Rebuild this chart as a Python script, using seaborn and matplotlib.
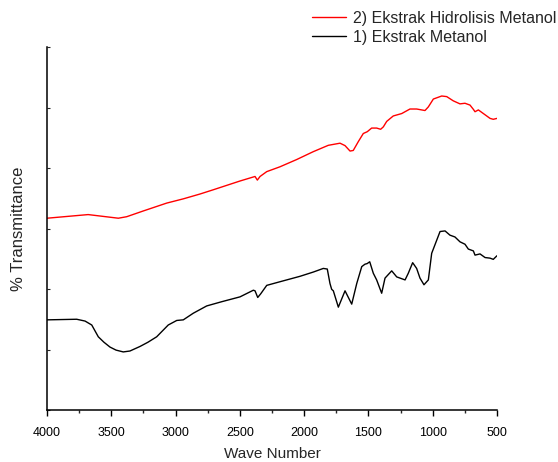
import matplotlib
matplotlib.use("Agg")
import matplotlib.pyplot as plt
import seaborn as sns
import pandas as pd
from matplotlib.ticker import MultipleLocator

sns.set_style("ticks")
plt.rcParams['font.family'] = ['Liberation Sans', 'DejaVu Sans']

# 2) Ekstrak Hidrolisis Metanol (red)
red_wn = [4000, 3680, 3445, 3380, 3251, 3069, 2940, 2810, 2707, 2499, 2382, 2364,
          2343, 2291, 2188, 2058, 1929, 1812, 1721, 1682, 1643, 1618, 1579, 1540,
          1509, 1475, 1436, 1405, 1384, 1358, 1307, 1241, 1177, 1125, 1060, 1034,
          995, 930, 891, 840, 788, 749, 710, 684, 671, 645, 606, 554, 529, 500]
red_t = [31.7, 32.3, 31.7, 31.95, 32.9, 34.2, 34.9, 35.7, 36.4, 37.85, 38.6, 38.0,
         38.6, 39.4, 40.2, 41.4, 42.7, 43.75, 44.1, 43.7, 42.8, 42.9, 44.35, 45.7,
         46.0, 46.6, 46.6, 46.4, 46.8, 47.7, 48.6, 49.0, 49.75, 49.75, 49.5, 50.1,
         51.4, 51.9, 51.8, 51.1, 50.6, 50.7, 50.4, 49.7, 49.3, 49.6, 49.0, 48.2, 48.05, 48.2]

# 1) Ekstrak Metanol (black)
blk_wn = [4000, 3769, 3704, 3652, 3601, 3557, 3510, 3463, 3407, 3355, 3277, 3215,
          3147, 3057, 2991, 2940, 2862, 2758, 2641, 2499, 2395, 2382, 2361, 2338,
          2291, 2188, 2032, 1929, 1851, 1820, 1799, 1786, 1773, 1734, 1682, 1630,
          1591, 1552, 1527, 1510, 1490, 1462, 1436, 1397, 1371, 1319, 1280, 1254,
          1215, 1190, 1156, 1125, 1099, 1068, 1034, 1008, 943, 904, 866, 827, 788,
          749, 723, 684, 671, 632, 593, 554, 529, 500]
blk_t = [14.9, 15.0, 14.7, 14.05, 12.1, 11.2, 10.4, 9.9, 9.6, 9.75, 10.5, 11.2,
         12.1, 14.05, 14.8, 14.9, 16.0, 17.2, 17.9, 18.7, 19.8, 19.7, 18.6, 19.2,
         20.6, 21.2, 22.1, 22.8, 23.4, 23.3, 20.9, 19.95, 19.7, 17.0, 19.7, 17.5,
         20.9, 23.7, 24.1, 24.2, 24.5, 22.6, 21.5, 19.3, 21.8, 23.0, 22.0, 21.8,
         21.5, 22.6, 24.35, 23.4, 21.8, 20.7, 21.5, 25.9, 29.5, 29.6, 28.9, 28.6, 27.8,
         27.4, 26.6, 26.3, 25.6, 25.8, 25.2, 25.1, 24.9, 25.5]

x_ticks = [4000, 3500, 3000, 2500, 2000, 1500, 1000, 500]

red_df = pd.DataFrame({"wn": red_wn, "t": red_t})
blk_df = pd.DataFrame({"wn": blk_wn, "t": blk_t})

fig = plt.figure(figsize=(5.58, 4.62), dpi=100)
ax = fig.add_axes([47/558, 52/462, 450/558, 363/462])

sns.lineplot(data=red_df, x="wn", y="t", color="#ff0000", lw=1.0, sort=False,
             ax=ax, label="2) Ekstrak Hidrolisis Metanol")
sns.lineplot(data=blk_df, x="wn", y="t", color="black", lw=1.0, sort=False,
             ax=ax, label="1) Ekstrak Metanol")

ax.set_xlim(4000, 500)
ax.set_ylim(0, 60)
ax.set_xticks(x_ticks)
ax.set_xticklabels([str(v) for v in x_ticks], fontsize=9)
ax.xaxis.set_minor_locator(MultipleLocator(250))
ax.yaxis.set_major_locator(MultipleLocator(10))
ax.set_yticklabels([])
ax.tick_params(axis='x', which='major', direction='out', length=4, width=1, pad=8, colors='black')
ax.tick_params(axis='x', which='minor', direction='out', length=2.5, width=1)
ax.tick_params(axis='y', which='major', direction='in', length=2.5, width=0.8, left=True)

for s in ['top', 'right']:
    ax.spines[s].set_visible(False)
for s in ['left', 'bottom']:
    ax.spines[s].set_linewidth(1.1)
    ax.spines[s].set_color('black')

ax.set_xlabel("Wave Number", fontsize=11, labelpad=6)
ax.set_ylabel("% Transmittance", fontsize=12, labelpad=11.5)

ax.get_legend().remove()
handles, labels = ax.get_lines(), ["2) Ekstrak Hidrolisis Metanol", "1) Ekstrak Metanol"]
fig.legend(handles[:2], labels, loc='upper left', bbox_to_anchor=(312/558, 1 - 11/462),
           frameon=False, fontsize=11.5, handlelength=2.1, handletextpad=0.45,
           labelspacing=0.25, borderpad=0, borderaxespad=0)

fig.savefig("out.png", dpi=100)
